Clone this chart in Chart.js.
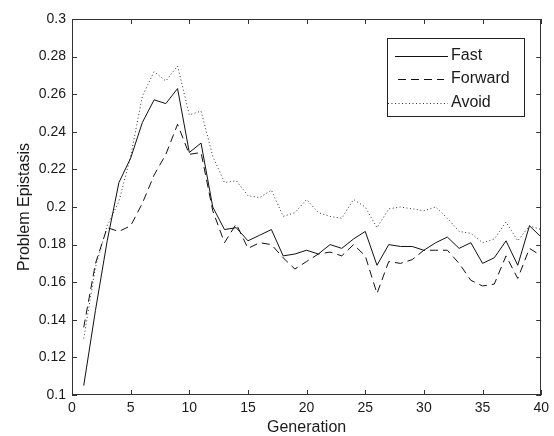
<!DOCTYPE html>
<html>
<head>
<meta charset="utf-8">
<script src="https://cdn.jsdelivr.net/npm/chart.js@4/dist/chart.umd.min.js"></script>
<style>
html,body{margin:0;padding:0;background:#fff;}
#wrap{width:554px;height:436px;}
</style>
</head>
<body>
<div id="wrap"><canvas id="c" width="554" height="436"></canvas></div>
<script>
const generations = [1,2,3,4,5,6,7,8,9,10,11,12,13,14,15,16,17,18,19,20,21,22,23,24,25,26,27,28,29,30,31,32,33,34,35,36,37,38,39,40];
const fast = [0.105,0.145,0.182,0.213,0.226,0.245,0.257,0.255,0.263,0.229,0.234,0.200,0.188,0.189,0.182,0.185,0.188,0.174,0.175,0.177,0.175,0.180,0.178,0.183,0.187,0.169,0.180,0.179,0.179,0.177,0.181,0.184,0.178,0.181,0.170,0.173,0.182,0.169,0.190,0.184];
const forward = [0.136,0.170,0.189,0.187,0.190,0.202,0.217,0.228,0.244,0.228,0.229,0.198,0.181,0.191,0.178,0.181,0.180,0.173,0.167,0.171,0.175,0.176,0.174,0.180,0.174,0.154,0.171,0.170,0.172,0.177,0.177,0.177,0.170,0.161,0.158,0.159,0.174,0.162,0.178,0.174];
const avoid = [0.130,0.168,0.190,0.203,0.227,0.259,0.272,0.267,0.275,0.249,0.251,0.227,0.213,0.214,0.206,0.205,0.209,0.195,0.197,0.204,0.197,0.195,0.194,0.204,0.200,0.189,0.199,0.200,0.199,0.198,0.200,0.194,0.187,0.186,0.181,0.183,0.192,0.182,0.190,0.188];
const xTicks = [0,5,10,15,20,25,30,35,40];
const yTicks = [0.1,0.12,0.14,0.16,0.18,0.2,0.22,0.24,0.26,0.28,0.3];
const seriesNames = ['Fast','Forward','Avoid'];

const FONT = 'Liberation Sans, Arial, sans-serif';
const TXT = '#1a1a1a';

function pts(arr){ return generations.map((g,i)=>({x:g,y:arr[i]})); }

const frameAndTicks = {
  id:'frameAndTicks',
  afterDraw(chart){
    const {ctx, chartArea:a, scales:{x,y}} = chart;
    ctx.save();
    ctx.strokeStyle = '#333';
    ctx.lineWidth = 1;
    ctx.strokeRect(Math.round(a.left)+0.5, Math.round(a.top)+0.5, Math.round(a.right-a.left)-1, Math.round(a.bottom-a.top)-1);
    const L = 5;
    ctx.beginPath();
    xTicks.forEach(v=>{
      const px = Math.round(x.getPixelForValue(v))+0.5;
      ctx.moveTo(px, a.bottom); ctx.lineTo(px, a.bottom-L);
      ctx.moveTo(px, a.top); ctx.lineTo(px, a.top+L);
    });
    yTicks.forEach(v=>{
      const py = Math.round(y.getPixelForValue(v))+0.5;
      ctx.moveTo(a.left, py); ctx.lineTo(a.left+L, py);
      ctx.moveTo(a.right, py); ctx.lineTo(a.right-L, py);
    });
    ctx.stroke();

    // legend box
    const bx=387.5, by=38.5, bw=137, bh=78;
    ctx.fillStyle='#fff';
    ctx.fillRect(bx,by,bw,bh);
    ctx.strokeStyle='#222';
    ctx.strokeRect(bx,by,bw,bh);
    const rows=[56,79,103];
    const spans=[[395,448],[398,444],[388,448]];
    chart.data.datasets.forEach((ds,i)=>{
      ctx.beginPath();
      ctx.setLineDash(ds.borderDash||[]);
      ctx.strokeStyle=ds.borderColor;
      ctx.lineWidth=1;
      ctx.moveTo(spans[i][0], rows[i]+0.5); ctx.lineTo(spans[i][1], rows[i]+0.5);
      ctx.stroke();
      ctx.setLineDash([]);
      ctx.fillStyle=TXT;
      ctx.font='16px '+FONT;
      ctx.textBaseline='middle';
      ctx.textAlign='left';
      ctx.fillText(ds.label, 451, rows[i]);
    });
    ctx.restore();
  }
};

new Chart(document.getElementById('c'), {
  type:'line',
  data:{
    datasets:[
      {label:seriesNames[0], data:pts(fast), borderColor:'#111', borderWidth:1, pointRadius:0, fill:false, tension:0},
      {label:seriesNames[1], data:pts(forward), borderColor:'#111', borderWidth:1, borderDash:[8,5], pointRadius:0, fill:false, tension:0},
      {label:seriesNames[2], data:pts(avoid), borderColor:'#333', borderWidth:1, borderDash:[1,2.5], pointRadius:0, fill:false, tension:0}
    ]
  },
  options:{
    responsive:false,
    animation:false,
    devicePixelRatio:1,
    layout:{padding:{top:19,right:4,left:0,bottom:0}},
    plugins:{legend:{display:false}, tooltip:{enabled:false}},
    scales:{
      x:{
        type:'linear', min:0, max:40,
        afterBuildTicks(s){ s.ticks = xTicks.map(v=>({value:v})); },
        afterFit(s){ s.height = 41; },
        grid:{display:false, drawTicks:false},
        border:{display:false},
        ticks:{color:TXT, font:{family:FONT,size:14}, padding:5, maxRotation:0, autoSkip:false},
        title:{display:true, text:'Generation', color:TXT, font:{family:FONT,size:16,lineHeight:1}, padding:{top:0,bottom:0}}
      },
      y:{
        type:'linear', min:0.1, max:0.3,
        afterBuildTicks(s){ s.ticks = yTicks.map(v=>({value:v})); },
        afterFit(s){ s.width = 72; },
        grid:{display:false, drawTicks:false},
        border:{display:false},
        ticks:{color:TXT, font:{family:FONT,size:14}, padding:6, autoSkip:false,
          callback:v=>String(Number(v.toFixed(2)))},
        title:{display:true, text:'Problem Epistasis', color:TXT, font:{family:FONT,size:16,lineHeight:1}, padding:{top:17,bottom:0}}
      }
    }
  },
  plugins:[frameAndTicks]
});
</script>
</body>
</html>
